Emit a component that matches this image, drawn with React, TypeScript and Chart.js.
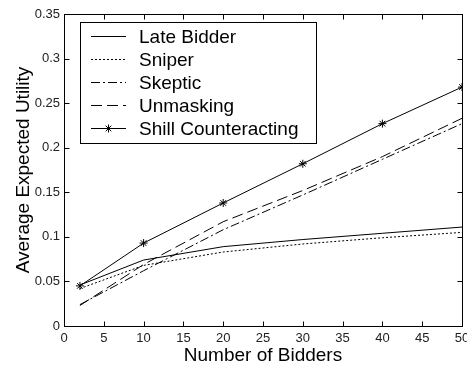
import { useEffect, useRef } from "react";
import { Chart, registerables } from "chart.js";

Chart.register(...registerables);

const bidders = [2, 10, 20, 30, 40, 50];
const lateBidder = [0.046, 0.074, 0.089, 0.097, 0.104, 0.111];
const sniper = [0.042, 0.068, 0.083, 0.092, 0.099, 0.105];
const skeptic = [0.024, 0.062, 0.108, 0.147, 0.187, 0.227];
const unmasking = [0.023, 0.069, 0.117, 0.152, 0.19, 0.233];
const shillCounteracting = [0.045, 0.093, 0.138, 0.182, 0.227, 0.268];

const seriesLabels = ["Late Bidder", "Sniper", "Skeptic", "Unmasking", "Shill Counteracting"];
const xTicks = [0, 5, 10, 15, 20, 25, 30, 35, 40, 45, 50];
const yTicks = [0, 0.05, 0.1, 0.15, 0.2, 0.25, 0.3, 0.35];
const yTickLabels = ["0", "0.05", "0.1", "0.15", "0.2", "0.25", "0.3", "0.35"];
const xTitle = "Number of Bidders";
const yTitle = "Average Expected Utility";

const TICK_FONT = "'Liberation Sans Narrow', 'Liberation Sans', Arial, sans-serif";
const MAIN_FONT = "'Liberation Sans', Arial, sans-serif";

function drawStar(ctx: CanvasRenderingContext2D, x: number, y: number, r: number) {
  ctx.beginPath();
  ctx.moveTo(x - r, y);
  ctx.lineTo(x + r, y);
  ctx.moveTo(x, y - r);
  ctx.lineTo(x, y + r);
  const d = r * Math.SQRT1_2;
  ctx.moveTo(x - d, y - d);
  ctx.lineTo(x + d, y + d);
  ctx.moveTo(x - d, y + d);
  ctx.lineTo(x + d, y - d);
  ctx.stroke();
}

const framePlugin = {
  id: "frameTicks",
  afterDraw(chart: any) {
    const { ctx, chartArea } = chart;
    const { left, right, top, bottom } = chartArea;
    const xs = chart.scales.x;
    const ys = chart.scales.y;
    const L = Math.round(left) + 0.5;
    const R = Math.round(right) + 0.5;
    const T = Math.round(top) + 0.5;
    const B = Math.round(bottom) + 0.5;
    ctx.save();
    ctx.strokeStyle = "#000";
    ctx.lineWidth = 1;
    ctx.setLineDash([]);
    ctx.strokeRect(L, T, R - L, B - T);
    const len = 5;
    ctx.beginPath();
    xTicks.forEach((v) => {
      const px = Math.round(xs.getPixelForValue(v)) + 0.5;
      ctx.moveTo(px, B);
      ctx.lineTo(px, B - len);
      ctx.moveTo(px, T);
      ctx.lineTo(px, T + len);
    });
    yTicks.forEach((v) => {
      const py = Math.round(ys.getPixelForValue(v)) + 0.5;
      ctx.moveTo(L, py);
      ctx.lineTo(L + len, py);
      ctx.moveTo(R, py);
      ctx.lineTo(R - len, py);
    });
    ctx.stroke();
    ctx.restore();
  },
};

const legendPlugin = {
  id: "boxLegend",
  afterDraw(chart: any) {
    const ctx: CanvasRenderingContext2D = chart.ctx;
    const x0 = 80.5;
    const y0 = 22.5;
    const w = 236;
    const h = 121;
    ctx.save();
    ctx.fillStyle = "#fff";
    ctx.fillRect(x0, y0, w, h);
    ctx.strokeStyle = "#000";
    ctx.lineWidth = 1;
    ctx.setLineDash([]);
    ctx.strokeRect(x0, y0, w, h);
    chart.data.datasets.forEach((ds: any, i: number) => {
      const y = Math.round(36 + i * 23) + 0.5;
      ctx.strokeStyle = "#000";
      ctx.setLineDash(ds.borderDash || []);
      ctx.beginPath();
      ctx.moveTo(91, y);
      ctx.lineTo(126, y);
      ctx.stroke();
      ctx.setLineDash([]);
      if (ds.pointStyle === "star") drawStar(ctx, 108.5, y, 4);
      ctx.fillStyle = "#000";
      ctx.font = `19px ${MAIN_FONT}`;
      ctx.textBaseline = "middle";
      ctx.textAlign = "left";
      ctx.fillText(ds.label, 139, y + 1);
    });
    ctx.restore();
  },
};

export default function App() {
  const canvasRef = useRef<HTMLCanvasElement | null>(null);

  useEffect(() => {
    const canvas = canvasRef.current;
    if (!canvas) return;
    const mk = (data: number[]) => bidders.map((x, i) => ({ x, y: data[i] }));
    const base = {
      borderColor: "#000",
      backgroundColor: "#000",
      borderWidth: 1,
      pointRadius: 0,
      fill: false,
      tension: 0,
    };
    const chart = new Chart(canvas, {
      type: "line",
      data: {
        datasets: [
          { ...base, label: seriesLabels[0], data: mk(lateBidder), borderDash: [] },
          { ...base, label: seriesLabels[1], data: mk(sniper), borderDash: [2, 2] },
          { ...base, label: seriesLabels[2], data: mk(skeptic), borderDash: [9, 3, 2, 3] },
          { ...base, label: seriesLabels[3], data: mk(unmasking), borderDash: [11, 5] },
          {
            ...base,
            label: seriesLabels[4],
            data: mk(shillCounteracting),
            borderDash: [],
            pointStyle: "star",
            pointRadius: 4,
            pointBorderWidth: 1,
            pointBorderColor: "#000",
          },
        ] as any,
      },
      options: {
        animation: false,
        responsive: false,
        devicePixelRatio: 1,
        layout: { padding: { left: 0, top: 14, right: 5, bottom: 0 } },
        plugins: { legend: { display: false }, tooltip: { enabled: false } },
        scales: {
          x: {
            type: "linear",
            min: 0,
            max: 50,
            grid: { display: false, drawTicks: false },
            border: { display: false },
            afterBuildTicks: (s: any) => {
              s.ticks = xTicks.map((v) => ({ value: v }));
            },
            ticks: {
              padding: 5,
              maxRotation: 0,
              autoSkip: false,
              color: "#222",
              font: { family: TICK_FONT, size: 13 },
              callback: (v: any) => String(v),
            },
            title: {
              display: true,
              text: xTitle,
              color: "#000",
              font: { family: MAIN_FONT, size: 19 },
              padding: { top: 0, bottom: 3 },
            },
            afterFit: (s: any) => {
              s.height = 44;
              s.paddingLeft = 0;
              s.paddingRight = 0;
            },
          },
          y: {
            type: "linear",
            min: 0,
            max: 0.35,
            grid: { display: false, drawTicks: false },
            border: { display: false },
            afterBuildTicks: (s: any) => {
              s.ticks = yTicks.map((v) => ({ value: v }));
            },
            ticks: {
              padding: 4,
              autoSkip: false,
              color: "#222",
              font: { family: TICK_FONT, size: 13 },
              callback: (_v: any, i: number) => yTickLabels[i],
            },
            title: {
              display: true,
              text: yTitle,
              color: "#000",
              font: { family: MAIN_FONT, size: 19 },
              padding: { top: 12, bottom: 0 },
            },
            afterFit: (s: any) => {
              s.width = 64;
              s.paddingTop = 0;
              s.paddingBottom = 0;
            },
          },
        },
      } as any,
      plugins: [framePlugin, legendPlugin],
    });
    return () => chart.destroy();
  }, []);

  return (
    <div style={{ position: "absolute", left: 0, top: 0, width: 467, height: 370, background: "#fff" }}>
      <canvas ref={canvasRef} width={467} height={370} style={{ display: "block" }} />
    </div>
  );
}
